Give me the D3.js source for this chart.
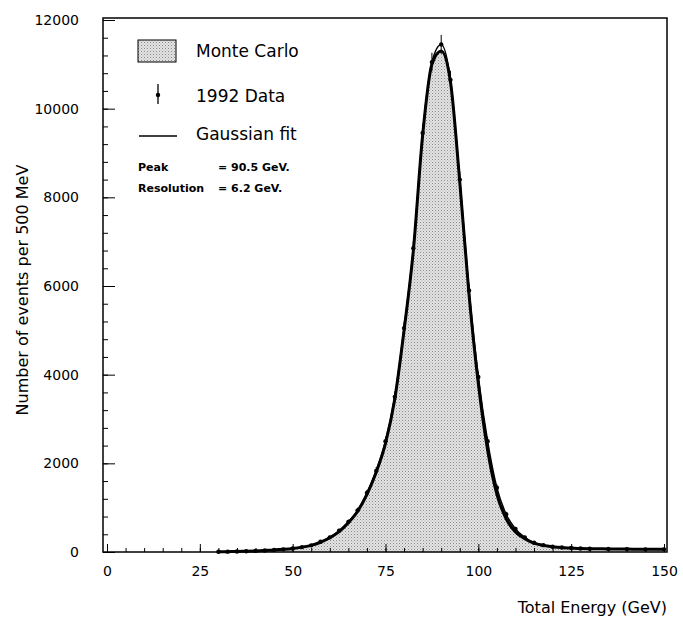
<!DOCTYPE html>
<html><head><meta charset="utf-8">
<script src="https://cdn.jsdelivr.net/npm/d3@7"></script>
<style>body{margin:0;background:#fff}text{font-family:"DejaVu Sans",sans-serif;fill:#000}</style>
</head><body><svg id="c" width="683" height="619"></svg>
<script>
var energies = [30,32.5,35,37.5,40,42.5,45,47.5,50,52.5,55,57.5,60,62.5,65,67.5,70,72.5,75,77.5,80,82.5,85,87.5,90,92.5,95,97.5,100,102.5,105,107.5,110,112.5,115,117.5,120,122.5,125,127.5,130,135,140,145,150];
var mcValues = [5,8,12,18,25,35,45,60,80,110,150,220,320,460,660,920,1300,1800,2450,3450,5000,6800,9400,11000,11300,10600,8350,5800,3800,2300,1300,750,450,300,200,150,120,100,90,80,75,70,65,60,60];
var dataValues = [5,8,12,18,25,35,45,60,80,110,150,230,330,480,680,940,1330,1830,2500,3500,5050,6850,9450,11050,11450,10650,8400,5900,3950,2500,1450,850,520,330,210,155,120,100,90,80,75,70,65,60,60];
var xTicks = [0,25,50,75,100,125,150];
var yTicks = [0,2000,4000,6000,8000,10000,12000];

var svg = d3.select("#c");
var x = d3.scaleLinear().domain([0,150]).range([107,664]);
var y = d3.scaleLinear().domain([0,12000]).range([552,20]);

// stipple pattern for Monte Carlo
var pat = svg.append("defs").append("pattern").attr("id","dots")
  .attr("width",3).attr("height",3).attr("patternUnits","userSpaceOnUse");
pat.append("rect").attr("width",3).attr("height",3).attr("fill","#e4e4e4");
pat.append("rect").attr("width",1).attr("height",1).attr("fill","#888");
pat.append("rect").attr("x",1.5).attr("y",1.5).attr("width",1).attr("height",1).attr("fill","#aaa");

var mc = energies.map(function(e,i){return [e,mcValues[i]];});
var dat = energies.map(function(e,i){return [e,dataValues[i]];});

svg.append("path").datum(mc).attr("fill","url(#dots)")
  .attr("d", d3.area().curve(d3.curveMonotoneX).x(function(d){return x(d[0]);}).y0(y(0)).y1(function(d){return y(d[1]);}));
svg.append("path").datum(mc).attr("fill","none").attr("stroke","#000").attr("stroke-width",3)
  .attr("d", d3.line().curve(d3.curveMonotoneX).x(function(d){return x(d[0]);}).y(function(d){return y(d[1]);}));
svg.append("path").datum(dat).attr("fill","none").attr("stroke","#000").attr("stroke-width",1.5)
  .attr("d", d3.line().curve(d3.curveMonotoneX).x(function(d){return x(d[0]);}).y(function(d){return y(d[1]);}));
svg.selectAll("circle.d").data(dat).enter().append("circle")
  .attr("cx",function(d){return x(d[0]);}).attr("cy",function(d){return y(d[1]);}).attr("r",2.2).attr("fill","#000");
svg.selectAll("line.e").data(dat).enter().append("line")
  .attr("x1",function(d){return x(d[0]);}).attr("x2",function(d){return x(d[0]);})
  .attr("y1",function(d){return y(d[1]+Math.sqrt(d[1])*2);}).attr("y2",function(d){return y(d[1]-Math.sqrt(d[1])*2);})
  .attr("stroke","#000").attr("stroke-width",1);

// frame
svg.append("rect").attr("x",103).attr("y",18).attr("width",564).attr("height",534)
  .attr("fill","none").attr("stroke","#000").attr("stroke-width",1.5);

svg.append("g").attr("transform","translate(0,552)")
  .call(d3.axisBottom(x).tickValues(xTicks).tickSize(-8).tickPadding(14).tickFormat(d3.format("d")));
svg.append("g").attr("transform","translate(0,552)")
  .call(d3.axisBottom(x).tickValues(d3.range(0,151,5)).tickSize(-4).tickFormat(""));
svg.append("g").attr("transform","translate(103,0)")
  .call(d3.axisLeft(y).tickValues(yTicks).tickSize(-12).tickPadding(24).tickFormat(d3.format("d")));
svg.append("g").attr("transform","translate(103,0)")
  .call(d3.axisLeft(y).tickValues(d3.range(0,12001,400)).tickSize(-5).tickFormat(""));
svg.selectAll(".domain").remove();
svg.selectAll(".tick line").attr("stroke","#000");
svg.selectAll(".tick text").style("font-size","14px");

svg.append("text").attr("transform","translate(28,290) rotate(-90)").attr("text-anchor","middle")
  .style("font-size","16px").text("Number of events per 500 MeV");
svg.append("text").attr("x",667).attr("y",613).attr("text-anchor","end")
  .style("font-size","16px").text("Total Energy (GeV)");

// legend
svg.append("rect").attr("x",138).attr("y",40).attr("width",38).attr("height",22)
  .attr("fill","url(#dots)").attr("stroke","#000").attr("stroke-width",1);
svg.append("text").attr("x",196).attr("y",57).style("font-size","17px").text("Monte Carlo");
svg.append("line").attr("x1",158).attr("x2",158).attr("y1",84).attr("y2",104).attr("stroke","#000").attr("stroke-width",1.3);
svg.append("circle").attr("cx",158).attr("cy",95).attr("r",2.2).attr("fill","#000");
svg.append("text").attr("x",196).attr("y",102).style("font-size","17px").text("1992 Data");
svg.append("line").attr("x1",139).attr("x2",177).attr("y1",136).attr("y2",136).attr("stroke","#000").attr("stroke-width",1.5);
svg.append("text").attr("x",196).attr("y",140).style("font-size","17px").text("Gaussian fit");
svg.append("text").attr("x",138).attr("y",171).style("font-size","11px").style("font-weight","bold").text("Peak");
svg.append("text").attr("x",218).attr("y",171).style("font-size","11px").style("font-weight","bold").text("= 90.5 GeV.");
svg.append("text").attr("x",138).attr("y",192).style("font-size","11px").style("font-weight","bold").text("Resolution");
svg.append("text").attr("x",218).attr("y",192).style("font-size","11px").style("font-weight","bold").text("=   6.2 GeV.");
</script></body></html>
